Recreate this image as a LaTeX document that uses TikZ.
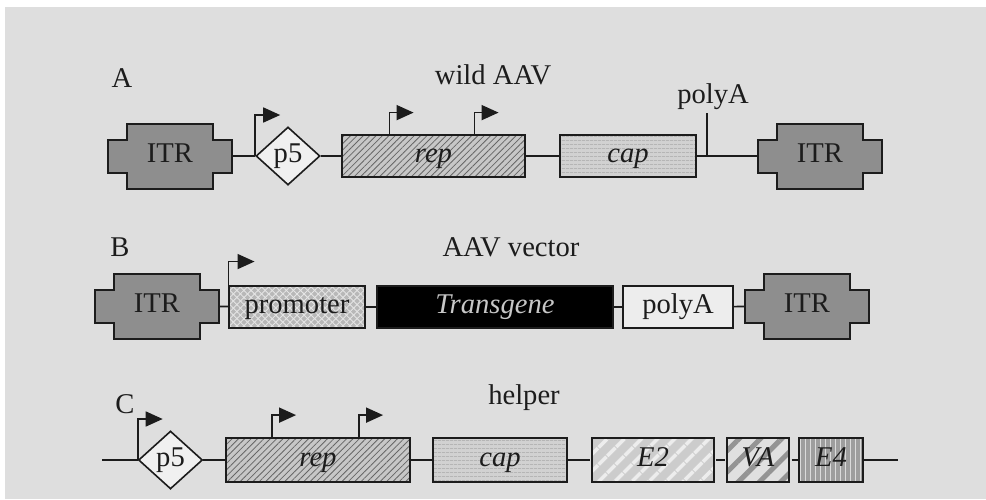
\documentclass[tikz,border=0pt]{standalone}
\usepackage{fontspec}
\setmainfont{Liberation Serif}
\usetikzlibrary{shapes.geometric,patterns.meta,arrows.meta,calc}

\definecolor{bggray}{HTML}{DEDEDE}
\definecolor{itrgray}{HTML}{8E8E8E}
\definecolor{ink}{HTML}{1C1C1C}

% the ITR block: cross shaped outline with a named node in its middle
\newcommand{\itrblock}[2]{% #1 name, #2 centre
  \draw[itrline] ($(#2)+(-62,-16.5)$) -- ++(19,0) -- ++(0,-16) -- ++(86,0) -- ++(0,16)
     -- ++(19,0) -- ++(0,33) -- ++(-19,0) -- ++(0,16) -- ++(-86,0) -- ++(0,-16) -- ++(-19,0) -- cycle;
  \node[itrtext] (#1) at (#2) {ITR};}

\begin{document}
\begin{tikzpicture}[x=1pt,y=-1pt,
  font=\fontsize{28.6}{32}\selectfont, color=ink,
  link/.style={draw=ink, line width=1.6pt},
  txt/.style={text height=19pt, text depth=7pt},
  box/.style={txt, draw=ink, line width=1.8pt, minimum height=42, inner sep=0pt},
  gene/.style={box, font=\fontsize{28.6}{32}\selectfont\itshape},
  itrtext/.style={txt, minimum width=124, minimum height=33, inner sep=0pt},
  itrline/.style={draw=ink, line width=2pt, fill=itrgray},
  pfive/.style={diamond, txt, draw=ink, line width=1.6pt, fill=white!94!black,
    minimum width=64, minimum height=58, inner sep=0pt},
  repfill/.style={preaction={fill=black!22}, pattern={Lines[angle=45,distance=4.5pt,line width=0.8pt]}, pattern color=black!60},
  capfill/.style={preaction={fill=black!18}, pattern={Lines[angle=0,distance=4pt,line width=0.8pt]}, pattern color=black!35},
  promfill/.style={preaction={fill=black!28}, preaction={pattern={Lines[angle=45,distance=5pt,line width=0.9pt]}, pattern color=white!90!black},
    pattern={Lines[angle=-45,distance=5pt,line width=0.9pt]}, pattern color=white!90!black},
  e2fill/.style={preaction={fill=black!20}, pattern={Lines[angle=45,distance=13pt,line width=4pt]}, pattern color=black!7},
  vafill/.style={preaction={fill=black!12}, pattern={Lines[angle=45,distance=15pt,line width=5pt]}, pattern color=black!42},
  e4fill/.style={preaction={fill=black!38}, pattern={Lines[angle=90,distance=5pt,line width=1pt]}, pattern color=black!14},
  promarrow/.style={line width=1.6pt, -{Triangle[length=17pt,width=15pt]}}]

\useasboundingbox (0,0) rectangle (986,499);
\fill[white] (0,0) rectangle (986,499);
\fill[bggray] (5,7) rectangle (986,499);

% A: wild AAV
\node (labA) at (122,78) {A};
\node (titleA) at (493,75) {wild AAV};
\itrblock{itrA1}{170,156}
\node[pfive] (p5A) at (288,156) {p5};
\node[gene, repfill, minimum width=183] (repA) at (433.5,156) {rep};
\node[gene, capfill, minimum width=136] (capA) at (628,156) {cap};
\itrblock{itrA2}{820,156}
\coordinate (pA) at (707,156);
\node (polyAlab) at (713,97) {polyA};
\draw[link] (itrA1) -- (p5A) -- (repA) -- (capA) -- (itrA2);
\draw[link] (pA) -- ++(0,-43);
\draw[promarrow] (p5A.west) |- ++(25,-41);
\foreach \d in {48,133}
  \draw[promarrow] (repA.north west) ++(\d,0) |- ++(24,-22);

% B: AAV vector
\node (labB) at (120,247) {B};
\node (titleB) at (511,247) {AAV vector};
\itrblock{itrB1}{157,306}
\node[box, promfill, minimum width=136] (promB) at (297,307) {promoter};
\node[gene, fill=black, text=black!22, minimum width=236] (transB) at (495,307) {Transgene};
\node[box, fill=white!93!black, minimum width=110] (polyB) at (678,307) {polyA};
\itrblock{itrB2}{807,306}
\draw[link] (itrB1) -- (promB) -- (transB) -- (polyB) -- (itrB2);
\draw[promarrow] (promB.north west) |- ++(26,-24);

% C: helper
\node (labC) at (125,404) {C};
\node (titleC) at (524,398) {helper};
\coordinate (startC) at (102,460);
\coordinate (endC) at (898,460);
\node[pfive] (p5C) at (170.5,460) {p5};
\node[gene, repfill, minimum width=184, minimum height=44] (repC) at (318,460) {rep};
\node[gene, capfill, minimum width=134, minimum height=44] (capC) at (500,460) {cap};
\node[gene, e2fill, minimum width=122, minimum height=44] (e2C) at (653,460) {E2};
\node[gene, vafill, minimum width=62, minimum height=44] (vaC) at (758,460) {VA};
\node[gene, e4fill, minimum width=64, minimum height=44] (e4C) at (831,460) {E4};
\draw[link] (startC) -- (p5C) -- (repC) -- (capC) -- (e2C) -- (vaC) -- (e4C) -- (endC);
\draw[promarrow] (p5C.west) |- ++(25,-41);
\foreach \d in {47,134}
  \draw[promarrow] (repC.north west) ++(\d,0) |- ++(24,-22);

\end{tikzpicture}
\end{document}
